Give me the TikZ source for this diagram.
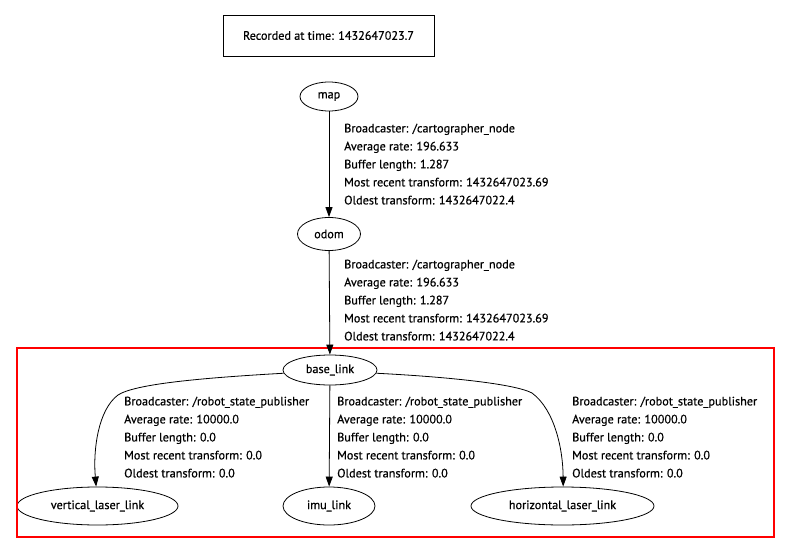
\documentclass[tikz,border=0pt]{standalone}
\usepackage{fontspec}
\setmainfont{PT Sans}[FakeBold=0.6]
\usetikzlibrary{shapes.geometric,arrows.meta}
\begin{document}
\begin{tikzpicture}[x=1pt,y=-1pt,
  every node/.style={font=\fontsize{12.2}{14}\selectfont},
  frame/.style={draw,line width=0.8pt,rectangle,minimum width=211pt,minimum height=41pt,inner sep=0pt},
  ell/.style={draw,line width=0.8pt,ellipse,inner sep=0pt},
  lbl/.style={anchor=north west,align=left,inner sep=0pt,font=\fontsize{12.2}{18}\selectfont},
  edge/.style={draw,line width=0.8pt,-{Triangle[length=10pt,width=7pt]}}]
\useasboundingbox (0,0) rectangle (788,549);
\node[frame] (title) at (328.5,35.5) {Recorded at time: 1432647023.7};
\node[ell,minimum width=58pt,minimum height=29pt] (map) at (329,96.5) {map};
\node[ell,minimum width=63pt,minimum height=33pt] (odom) at (329,234) {odom};
\node[ell,minimum width=94pt,minimum height=30pt] (base) at (330,370) {base\_link};
\node[ell,minimum width=161pt,minimum height=38pt] (vll) at (97.5,506) {vertical\_laser\_link};
\node[ell,minimum width=92pt,minimum height=38pt] (imu) at (329,506) {imu\_link};
\node[ell,minimum width=183pt,minimum height=38pt] (hll) at (562.5,506) {horizontal\_laser\_link};
\draw[red,line width=1.2pt] (17,348) rectangle (774,537);
\path[edge] (map) -- (odom);
\path[edge] (odom) -- (base);
\path[edge] (base) -- (imu);
\path[edge] (base.184) .. controls (200,378) and (135,384) .. (118,395) .. controls (98,410) and (93,450) .. (vll.94);
\path[edge] (base.-4) .. controls (450,377) and (515,384) .. (532,393) .. controls (555,410) and (563,450) .. (hll.88);
\node[lbl] (l1) at (344,123.5) {Broadcaster: /cartographer\_node\\Average rate: 196.633\\Buffer length: 1.287\\Most recent transform: 1432647023.69\\Oldest transform: 1432647022.4};
\node[lbl] (l2) at (344,259.5) {Broadcaster: /cartographer\_node\\Average rate: 196.633\\Buffer length: 1.287\\Most recent transform: 1432647023.69\\Oldest transform: 1432647022.4};
\node[lbl] (l3) at (124,396.5) {Broadcaster: /robot\_state\_publisher\\Average rate: 10000.0\\Buffer length: 0.0\\Most recent transform: 0.0\\Oldest transform: 0.0};
\node[lbl] (l4) at (337,396.5) {Broadcaster: /robot\_state\_publisher\\Average rate: 10000.0\\Buffer length: 0.0\\Most recent transform: 0.0\\Oldest transform: 0.0};
\node[lbl] (l5) at (572,396.5) {Broadcaster: /robot\_state\_publisher\\Average rate: 10000.0\\Buffer length: 0.0\\Most recent transform: 0.0\\Oldest transform: 0.0};
\end{tikzpicture}
\end{document}
